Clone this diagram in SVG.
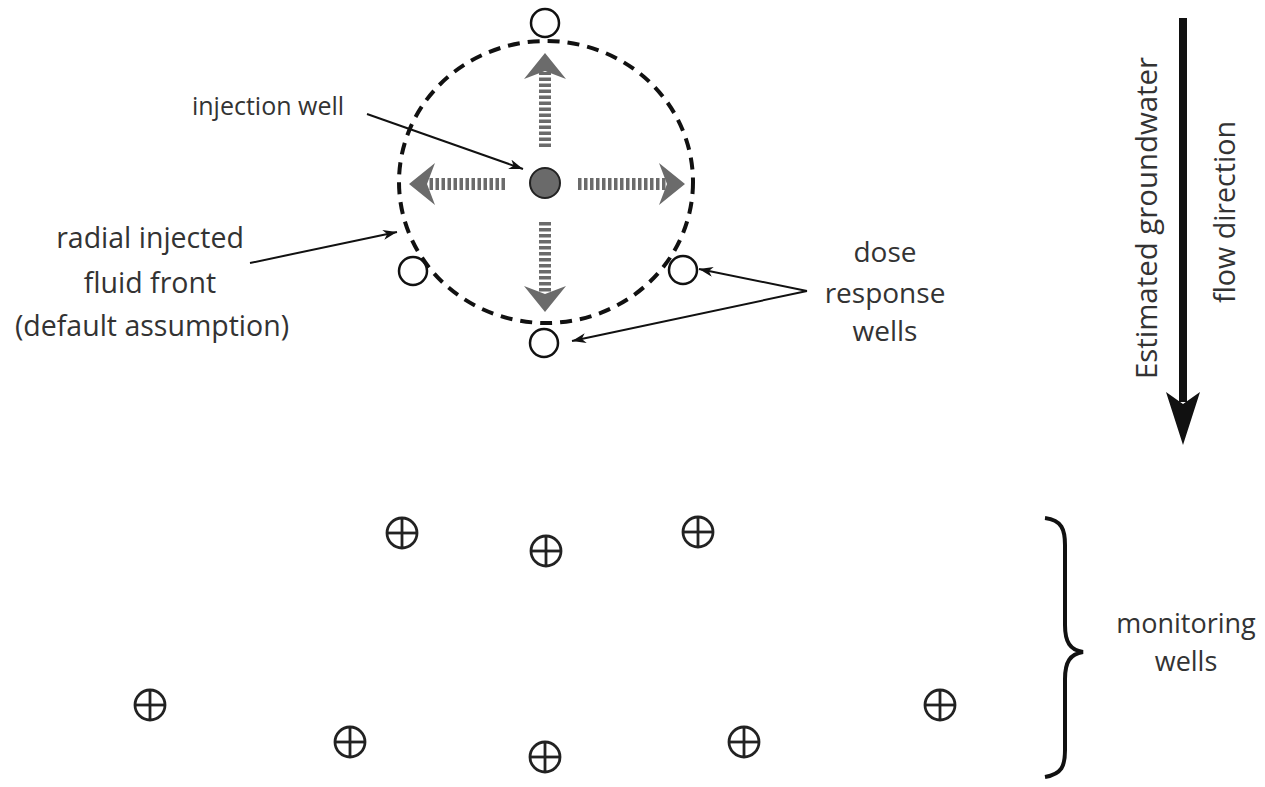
<svg xmlns="http://www.w3.org/2000/svg" width="1265" height="787" viewBox="0 0 1265 787">
  <style>
    .lbl { font-family: "Open Sans", "Liberation Sans", sans-serif; fill: #333; text-anchor: middle; }
    .leader { stroke: #111; stroke-width: 2; fill: none; marker-end: url(#lead); }
    .shaft { stroke: #6b6b6b; stroke-width: 12; stroke-dasharray: 3.5 2.5; fill: none; }
    .head { fill: #6b6b6b; }
    .dose { fill: none; stroke: #111; stroke-width: 2.5; }
    .mon { fill: none; stroke: #222; stroke-width: 2.8; }
  </style>
  <defs>
    <marker id="lead" viewBox="0 0 14 10" refX="14" refY="5" markerWidth="14" markerHeight="10" markerUnits="userSpaceOnUse" orient="auto">
      <path d="M0,0 L14,5 L0,10 L4,5 Z" fill="#111"/>
    </marker>
    <!-- notched arrowhead pointing along +x with its tip at the origin -->
    <path id="ahead" d="M0,0 L-26,-21 L-18,0 L-26,21 Z"/>
    <!-- monitoring well symbol -->
    <g id="mwell">
      <circle r="15" class="mon"/>
      <line x1="-15" y1="0" x2="15" y2="0" class="mon"/>
      <line x1="0" y1="-15" x2="0" y2="15" class="mon"/>
    </g>
  </defs>

  <rect width="1265" height="787" fill="#fff"/>

  <!-- radial injected fluid front -->
  <g id="fluid-front">
    <ellipse cx="546" cy="182" rx="147" ry="141" fill="none" stroke="#111" stroke-width="4" stroke-dasharray="12 8"/>
  </g>

  <!-- radial flow arrows from the injection well -->
  <g id="radial-arrows">
    <line x1="545" y1="147" x2="545" y2="72" class="shaft"/>
    <use href="#ahead" class="head" transform="translate(545,53) rotate(-90)"/>
    <line x1="505" y1="184" x2="428" y2="184" class="shaft"/>
    <use href="#ahead" class="head" transform="translate(409,184) rotate(180)"/>
    <line x1="578" y1="184" x2="668" y2="184" class="shaft"/>
    <use href="#ahead" class="head" transform="translate(685,184)"/>
    <line x1="545" y1="222" x2="545" y2="296" class="shaft"/>
    <use href="#ahead" class="head" transform="translate(545,312) rotate(90)"/>
  </g>

  <!-- injection well -->
  <g id="injection-well">
    <circle cx="545" cy="183" r="15" fill="#6a6a6a" stroke="#222" stroke-width="2"/>
  </g>

  <!-- dose response wells -->
  <g id="dose-well-n"><circle cx="545" cy="23" r="14" class="dose"/></g>
  <g id="dose-well-w"><circle cx="413" cy="271" r="14" class="dose"/></g>
  <g id="dose-well-e"><circle cx="683" cy="270" r="14" class="dose"/></g>
  <g id="dose-well-s"><circle cx="544" cy="343" r="14" class="dose"/></g>

  <!-- monitoring wells -->
  <g id="mon-1"><use href="#mwell" x="402" y="533"/></g>
  <g id="mon-2"><use href="#mwell" x="546" y="551"/></g>
  <g id="mon-3"><use href="#mwell" x="698" y="532"/></g>
  <g id="mon-4"><use href="#mwell" x="150" y="705"/></g>
  <g id="mon-5"><use href="#mwell" x="350" y="742"/></g>
  <g id="mon-6"><use href="#mwell" x="545" y="757"/></g>
  <g id="mon-7"><use href="#mwell" x="744" y="742"/></g>
  <g id="mon-8"><use href="#mwell" x="940" y="705"/></g>

  <!-- leader lines -->
  <g id="connectors">
    <line x1="367" y1="114" x2="523" y2="169" class="leader"/>
    <line x1="250" y1="263" x2="397" y2="232" class="leader"/>
    <polyline points="807,291 699,269" class="leader"/>
    <polyline points="807,291 572,341" class="leader"/>
  </g>

  <!-- groundwater flow direction arrow -->
  <g id="flow-arrow">
    <line x1="1183" y1="18" x2="1183" y2="402" stroke="#111" stroke-width="8"/>
    <path d="M1183,445 L1166,392 L1183,404 L1200,392 Z" fill="#111"/>
  </g>

  <!-- brace grouping the monitoring wells -->
  <g id="brace">
    <path d="M1045,518 C1062,520 1065,530 1065,545 L1065,625 C1065,642 1070,650 1083,652 C1070,654 1065,662 1065,679 L1065,750 C1065,766 1062,774 1045,777" fill="none" stroke="#111" stroke-width="4"/>
  </g>

  <!-- labels -->
  <g id="labels">
    <text class="lbl" x="268" y="115" font-size="25">injection well</text>
    <text class="lbl" x="150" y="248" font-size="28.5">radial injected</text>
    <text class="lbl" x="150" y="293" font-size="28.5">fluid front</text>
    <text class="lbl" x="152" y="336" font-size="28.5">(default assumption)</text>
    <text class="lbl" x="885" y="262" font-size="28">dose</text>
    <text class="lbl" x="885" y="303" font-size="28">response</text>
    <text class="lbl" x="885" y="341" font-size="28">wells</text>
    <text class="lbl" font-size="29.4" transform="translate(1157,218) rotate(-90)">Estimated groundwater</text>
    <text class="lbl" font-size="28.6" transform="translate(1235,212) rotate(-90)">flow direction</text>
    <text class="lbl" x="1186" y="633" font-size="27">monitoring</text>
    <text class="lbl" x="1186" y="671" font-size="27">wells</text>
  </g>
</svg>
